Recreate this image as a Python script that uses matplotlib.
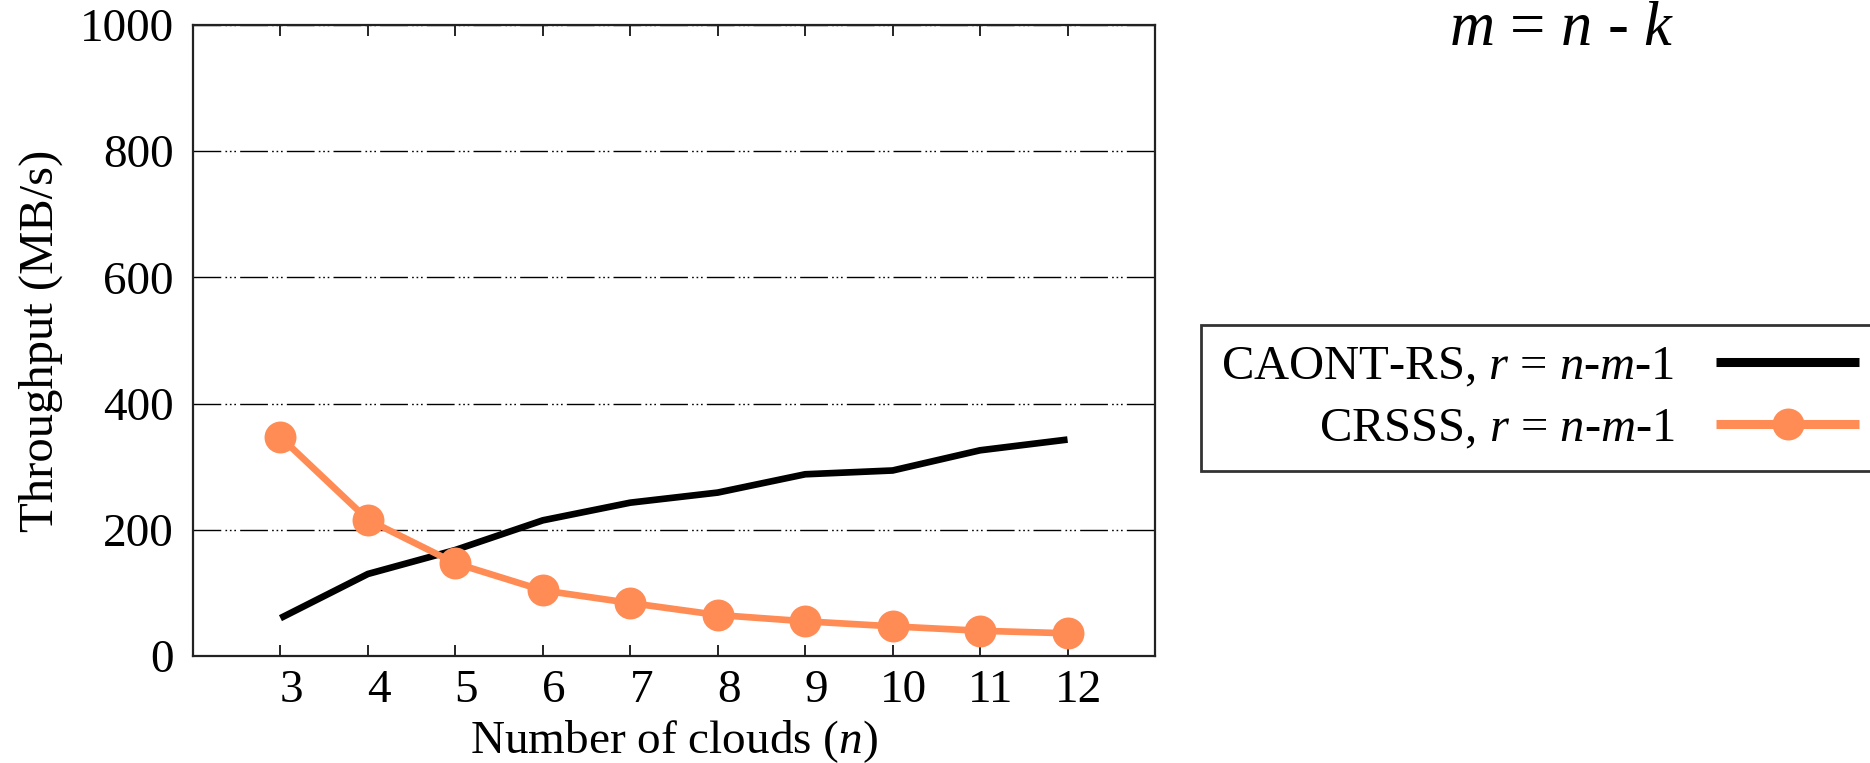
import matplotlib
matplotlib.use("Agg")
import matplotlib.pyplot as plt
from matplotlib.transforms import ScaledTranslation

plt.rcParams['font.family'] = ['Liberation Serif', 'DejaVu Serif']
plt.rcParams['mathtext.fontset'] = 'custom'
plt.rcParams['mathtext.rm'] = 'Liberation Serif'
plt.rcParams['mathtext.it'] = 'Liberation Serif:italic'
plt.rcParams['lines.scale_dashes'] = False

# ---- data ----
clouds = [3, 4, 5, 6, 7, 8, 9, 10, 11, 12]
caont_rs = [60, 130, 168, 215, 243, 259, 288, 294, 326, 343]
crsss = [347, 216, 147, 104, 84, 65, 55, 47, 40, 36]
yticks = [0, 200, 400, 600, 800, 1000]
label_caont = r"CAONT-RS, $r$ = $n$-$m$-1"
label_crsss = r"CRSSS, $r$ = $n$-$m$-1"
xlabel = r"Number of clouds ($n$)"
ylabel = "Throughput (MB/s)"
note = r"$m$ = $n$ - $k$"

W, H, DPI = 1870, 763, 100
fig = plt.figure(figsize=(W / DPI, H / DPI), dpi=DPI)
ax = fig.add_axes([193 / W, 1 - 656 / H, (1155 - 193) / W, (656 - 25) / H])

FS = 34
orange = '#FF8C55'

l1, = ax.plot(clouds, caont_rs, color='black', lw=4.8, solid_joinstyle='round',
              solid_capstyle='butt', zorder=3)
l2, = ax.plot(clouds, crsss, color=orange, lw=4.8, marker='o', markersize=23,
              markeredgewidth=0, zorder=4)

ax.set_xlim(2, 13)
ax.set_ylim(0, 1000)
ax.set_xticks(clouds)
ax.set_yticks(yticks)
ax.tick_params(axis='x', which='both', direction='in', length=8, width=1.2,
               top=True, labelsize=FS, pad=10, colors='black')
ax.tick_params(axis='y', length=0, labelsize=FS, pad=14)
for lab in ax.get_xticklabels():
    lab.set_transform(lab.get_transform() + ScaledTranslation(11 / DPI, 0, fig.dpi_scale_trans))

for sp in ax.spines.values():
    sp.set_linewidth(1.6)
    sp.set_color('#222222')

ax.grid(axis='y', color='black', lw=1.0, dashes=[20, 3, 1.2, 2, 1.2, 2, 1.2, 3])
ax.set_axisbelow(True)

ax.set_xlabel(xlabel, fontsize=FS, labelpad=4)
ax.set_ylabel(ylabel, fontsize=35, labelpad=12)

h1 = plt.Line2D([], [], color='black', lw=6.5, solid_capstyle='butt')
h2 = plt.Line2D([], [], color=orange, lw=6.5, marker='o', markersize=23,
                markeredgewidth=0, solid_capstyle='butt')
leg = fig.legend([h1, h2], [label_caont, label_crsss], loc='upper left',
                 bbox_to_anchor=(1201 / W, 1 - 325 / H), bbox_transform=fig.transFigure,
                 borderaxespad=0, fontsize=35, markerfirst=False, frameon=True,
                 fancybox=False, edgecolor='black', handlelength=2.95, handletextpad=0.85,
                 labelspacing=0.36, borderpad=0.42)
leg.get_frame().set_linewidth(2.0)
for t in leg.get_texts():
    t.set_ha('right')
leg._legend_box.align = 'right'

fig.text(1449 / W, 1 - 45 / H, note, fontsize=45, ha='left', va='baseline')

fig.savefig('out.png', dpi=DPI, facecolor='white')
